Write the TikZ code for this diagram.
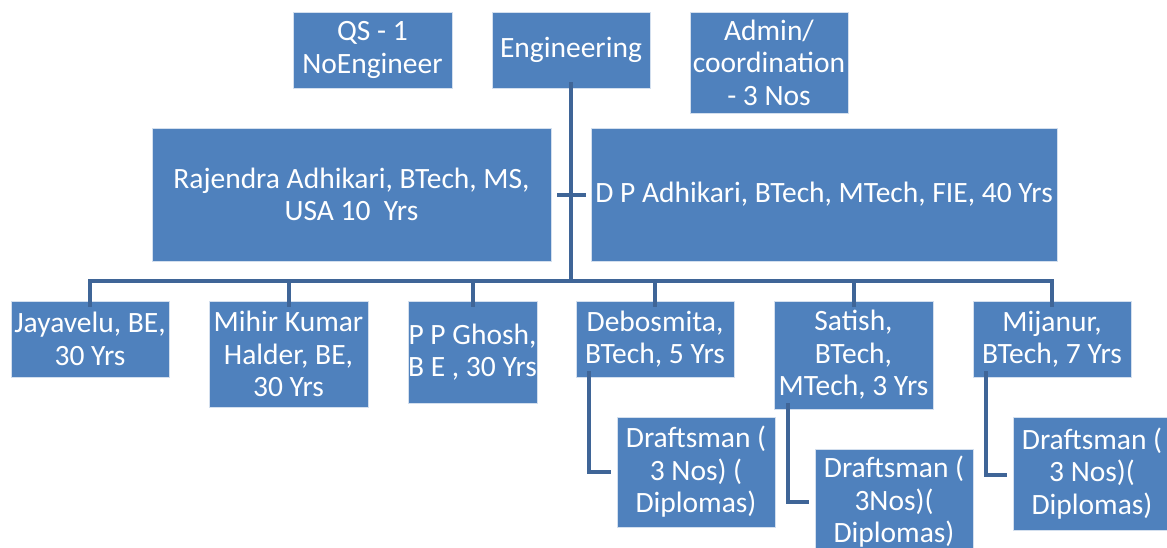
\documentclass[tikz,border=0pt]{standalone}
\usepackage{fontspec}
\setmainfont{Carlito}
\usepackage{tikz}
\usetikzlibrary{positioning}
\definecolor{boxblue}{RGB}{79,129,189}
\definecolor{lineblue}{RGB}{63,101,151}
\tikzset{
  box/.style={fill=boxblue, draw=white!75!boxblue, line width=0.8pt, text=white, align=center, inner sep=0pt,
    font=\fontsize{29.5}{32.5}\selectfont},
  link/.style={draw=lineblue, line width=4pt, line join=miter}
}
\begin{document}
\begin{tikzpicture}[x=1pt,y=-1pt]
\useasboundingbox (0,0) rectangle (1167,547);
\clip (0,0) rectangle (1167,547);
% top row
\node[box, minimum width=159pt, minimum height=76pt] (qs) at (372.5,50) {QS - 1\\NoEngineer};
\node[box, minimum width=158pt, minimum height=76pt] (eng) at (571,50) {Engineering};
\node[box, minimum width=158pt, minimum height=101pt] (adm) at (769,62.5) {Admin/\\coordination\\- 3 Nos};
% assistants
\node[box, minimum width=399pt, minimum height=133pt] (raj) at (351.5,194.5) {Rajendra Adhikari, BTech, MS,\\USA 10\ \ Yrs};
\node[box, minimum width=466pt, minimum height=133pt] (dp) at (824,194.5) {D P Adhikari, BTech, MTech, FIE, 40 Yrs};
% engineers
\node[box, minimum width=158pt, minimum height=76pt] (jay) at (90,339) {Jayavelu, BE,\\30 Yrs};
\node[box, minimum width=159pt, minimum height=106pt] (mih) at (288.5,354) {Mihir Kumar\\Halder, BE,\\30 Yrs};
\node[box, minimum width=129pt, minimum height=102pt] (ppg) at (472.5,352) {P P Ghosh,\\B E , 30 Yrs};
\node[box, minimum width=158pt, minimum height=76pt] (deb) at (655,339) {Debosmita,\\BTech, 5 Yrs};
\node[box, minimum width=159pt, minimum height=108pt] (sat) at (853.5,355) {Satish,\\BTech,\\MTech, 3 Yrs};
\node[box, minimum width=158pt, minimum height=76pt] (mij) at (1052,339) {Mijanur,\\BTech, 7 Yrs};
% draftsmen
\node[box, minimum width=158pt, minimum height=110pt] (dr1) at (696,472) {Draftsman (\\3 Nos) (\\Diplomas)};
\node[box, minimum width=158pt, minimum height=106pt] (dr2) at (894,502) {Draftsman (\\3Nos)(\\Diplomas)};
\node[box, minimum width=158pt, minimum height=113pt] (dr3) at (1092,473.5) {Draftsman (\\3 Nos)(\\Diplomas)};
% connectors
\coordinate (bus) at (571,281);
\draw[link] ([yshift=6pt]eng.south) -- (bus);
\draw[link] ([xshift=6pt]raj.east) -- ([xshift=-5pt]dp.west);
\foreach \n in {jay,mih,ppg,deb,sat,mij}
  \draw[link] (bus) -| ([yshift=-6pt]\n.north);
\draw[link] ([xshift=13pt,yshift=6pt]deb.south west) |- ([xshift=-6pt]dr1.west);
\draw[link] ([xshift=14pt,yshift=6pt]sat.south west) |- ([xshift=-6pt]dr2.west);
\draw[link] ([xshift=13pt,yshift=6pt]mij.south west) |- ([xshift=-6pt,yshift=-1.5pt]dr3.west);
\end{tikzpicture}
\end{document}
